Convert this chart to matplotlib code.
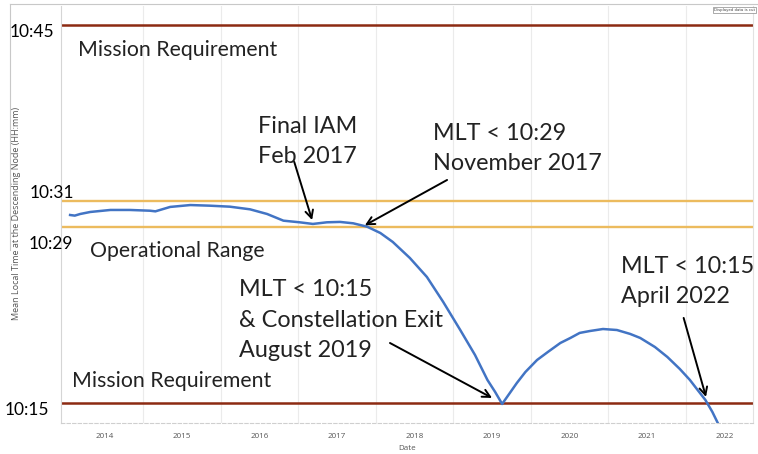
import numpy as np
import matplotlib
matplotlib.use('Agg')
import matplotlib.pyplot as plt
from matplotlib import transforms
from matplotlib.lines import Line2D

# MLT at descending node, minutes after 10:00
years = [2014.06, 2014.12, 2014.19, 2014.32, 2014.58, 2014.83, 2015.09, 2015.16,
         2015.35, 2015.61, 2015.86, 2016.12, 2016.38, 2016.60, 2016.81, 2017.02,
         2017.19, 2017.37, 2017.54, 2017.71, 2017.89, 2018.06, 2018.22, 2018.44,
         2018.66, 2018.87, 2019.09, 2019.28, 2019.44, 2019.54, 2019.63, 2019.82,
         2019.93, 2020.08, 2020.22, 2020.38, 2020.51, 2020.63, 2020.76, 2020.93,
         2021.11, 2021.28, 2021.41, 2021.60, 2021.76, 2021.92, 2022.05, 2022.15,
         2022.25, 2022.34, 2022.41]
mlt_min = [29.92, 29.87, 30.00, 30.16, 30.32, 30.32, 30.26, 30.21,
           30.56, 30.71, 30.66, 30.58, 30.37, 30.00, 29.47, 29.34,
           29.21, 29.34, 29.37, 29.26, 28.99, 28.49, 27.78, 26.51,
           25.00, 23.02, 20.79, 18.81, 16.83, 15.87, 14.92, 16.59,
           17.46, 18.41, 19.05, 19.76, 20.16, 20.56, 20.71, 20.87,
           20.79, 20.48, 20.16, 19.44, 18.65, 17.70, 16.83, 16.03,
           15.24, 14.29, 13.41]

req_levels = [45, 15]
op_levels = [31, 29]
year_labels = list(range(2014, 2023))

plt.rcParams['font.family'] = ['Lato', 'DejaVu Sans']

fig = plt.figure(figsize=(7.58, 4.54), dpi=100)
ax = fig.add_axes([0.0805, 0.0683, 0.9129, 0.9185])
ax.set_xlim(2013.943, 2022.864)
ax.set_ylim(13.41, 46.51)

for lv in req_levels:
    ax.axhline(lv, color='#8c2a12', lw=1.8, zorder=2)
for lv in op_levels:
    ax.axhline(lv, color='#ecbb5e', lw=1.7, zorder=2)
ax.plot(years, mlt_min, color='#4274c4', lw=1.8, zorder=3)

# year labels in the middle of each year, grid at year boundaries
ax.set_xticks([y + 0.5 for y in year_labels])
ax.set_xticklabels([str(y) for y in year_labels], family='Open Sans')
ax.set_xticks(year_labels[1:], minor=True)
ax.grid(which='minor', axis='x', color='#ebebeb', lw=0.8, zorder=0)
ax.tick_params(axis='x', which='both', length=0, labelsize=5.8, labelcolor='#555555', pad=7)
ax.set_yticks([])
ax.set_xlabel('Date', fontsize=5.8, color='#555555', labelpad=4, family='Open Sans')

ax.spines['top'].set_visible(False)
ax.spines['left'].set_color('#d5d5d5')
ax.spines['right'].set_color('#e2e2e2')
ax.spines['bottom'].set_color('#cfcfcf')
ax.spines['bottom'].set_linestyle((0, (3, 2)))
for s in ['left', 'right', 'bottom']:
    ax.spines[s].set_linewidth(0.8)

fig.text(17 / 758, 1 - 213 / 454, 'Mean Local Time at the Descending Node (HH:mm)',
         rotation=90, fontsize=6.5, color='#555555', ha='center', va='center',
         family='Open Sans')

# level labels to the left of the plot
trans = transforms.blended_transform_factory(fig.transFigure, ax.transData)
level_lbl = [(45, 10, -5.0), (31, 30, 6.4), (29, 29, -12.5), (15, 5, -5.0)]
for lv, xpx, dy in level_lbl:
    ax.annotate(f'10:{lv:02d}', xy=(xpx / 758, lv), xycoords=trans,
                xytext=(0, dy), textcoords='offset points',
                fontsize=12.5, va='center', ha='left', annotation_clip=False)

txt = dict(fontsize=15.3, color='#222222', va='baseline', ha='left')
ax.text(2014.162, 42.54, 'Mission Requirement', **txt)
ax.text(2014.317, 26.59, 'Operational Range', **txt)
ax.text(2014.085, 16.27, 'Mission Requirement', **txt)

# multi-line labels: y is the baseline of the last line
big = dict(fontsize=16.8, color='#222222', va='baseline', ha='left', linespacing=1.55)
ax.text(2016.483, 34.05, 'Final IAM\nFeb 2017', **big)
ax.text(2018.738, 33.49, 'MLT < 10:29\nNovember 2017', **big)
ax.text(2016.24, 18.65, 'MLT < 10:15\n& Constellation Exit\nAugust 2019', **big)
ax.text(2021.162, 22.94, 'MLT < 10:15\nApril 2022', **big)

arrows = [((2016.95, 34.13), (2017.18, 29.52)),
          ((2018.92, 32.70), (2017.86, 29.10)),
          ((2018.184, 19.76), (2019.50, 15.40)),
          ((2021.97, 21.75), (2022.258, 15.48))]
for tail, tip in arrows:
    ax.annotate('', xy=tip, xytext=tail,
                arrowprops=dict(arrowstyle='->,head_length=0.55,head_width=0.28',
                                color='black', lw=1.4, shrinkA=0, shrinkB=0),
                zorder=4)

# screenshot frame and the little notice box
fig.add_artist(Line2D([10 / 758, 1], [1 - 4 / 454, 1 - 4 / 454], color='#c8c8c8', lw=0.8))
fig.add_artist(Line2D([10 / 758, 10 / 758], [1 - 4 / 454, 0.45], color='#c8c8c8', lw=0.8))
fig.text(755 / 758, 1 - 10 / 454, 'Displayed data is cut', fontsize=2.8, color='#444444',
         va='center', ha='right', family='DejaVu Sans',
         bbox=dict(boxstyle='square,pad=0.3', fc='white', ec='#888888', lw=0.5))

fig.savefig('out.png', dpi=100)
